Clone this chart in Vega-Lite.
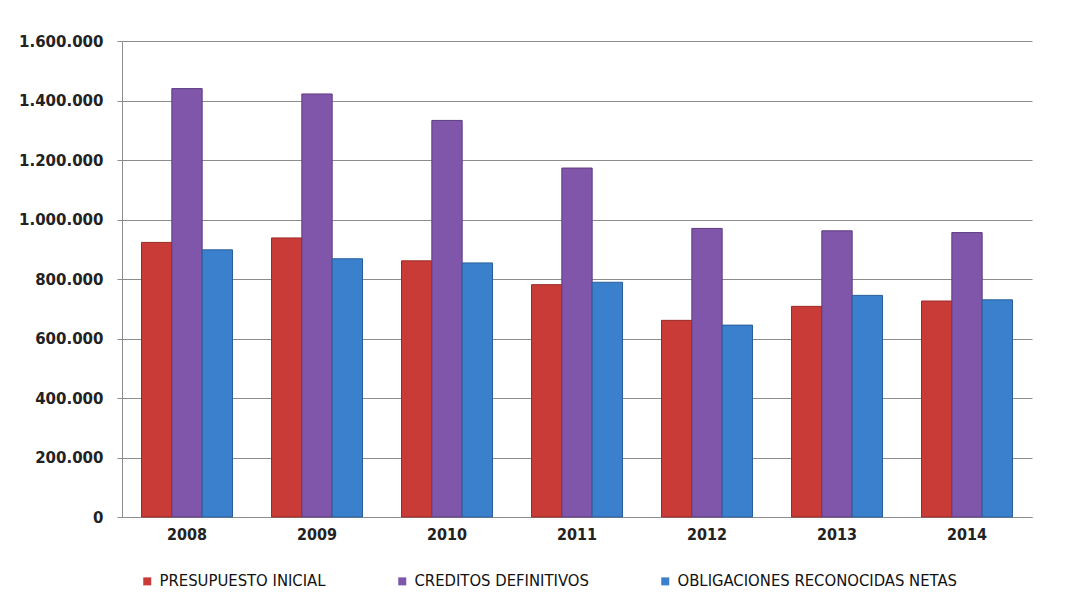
{
  "$schema": "https://vega.github.io/schema/vega-lite/v6.json",
  "width": 910,
  "height": 476,
  "autosize": "none",
  "padding": {"left": 122, "top": 41, "right": 53, "bottom": 84},
  "background": "white",
  "config": {
    "locale": {"number": {"decimal": ",", "thousands": ".", "grouping": [3], "currency": ["", " €"]}},
    "view": {"stroke": null}
  },
  "data": {
    "values": [
      {"year": "2008", "series": "PRESUPUESTO INICIAL", "value": 923000},
      {"year": "2008", "series": "CREDITOS DEFINITIVOS", "value": 1440000},
      {"year": "2008", "series": "OBLIGACIONES RECONOCIDAS NETAS", "value": 898000},
      {"year": "2009", "series": "PRESUPUESTO INICIAL", "value": 938000},
      {"year": "2009", "series": "CREDITOS DEFINITIVOS", "value": 1422000},
      {"year": "2009", "series": "OBLIGACIONES RECONOCIDAS NETAS", "value": 868000},
      {"year": "2010", "series": "PRESUPUESTO INICIAL", "value": 861000},
      {"year": "2010", "series": "CREDITOS DEFINITIVOS", "value": 1333000},
      {"year": "2010", "series": "OBLIGACIONES RECONOCIDAS NETAS", "value": 854000},
      {"year": "2011", "series": "PRESUPUESTO INICIAL", "value": 781000},
      {"year": "2011", "series": "CREDITOS DEFINITIVOS", "value": 1173000},
      {"year": "2011", "series": "OBLIGACIONES RECONOCIDAS NETAS", "value": 789000},
      {"year": "2012", "series": "PRESUPUESTO INICIAL", "value": 661000},
      {"year": "2012", "series": "CREDITOS DEFINITIVOS", "value": 970000},
      {"year": "2012", "series": "OBLIGACIONES RECONOCIDAS NETAS", "value": 645000},
      {"year": "2013", "series": "PRESUPUESTO INICIAL", "value": 708000},
      {"year": "2013", "series": "CREDITOS DEFINITIVOS", "value": 962000},
      {"year": "2013", "series": "OBLIGACIONES RECONOCIDAS NETAS", "value": 745000},
      {"year": "2014", "series": "PRESUPUESTO INICIAL", "value": 726000},
      {"year": "2014", "series": "CREDITOS DEFINITIVOS", "value": 956000},
      {"year": "2014", "series": "OBLIGACIONES RECONOCIDAS NETAS", "value": 730000}
    ]
  },
  "mark": {"type": "bar", "strokeWidth": 1},
  "encoding": {
    "x": {
      "field": "year", "type": "nominal", "title": null,
      "scale": {"paddingInner": 0.3, "paddingOuter": 0.15},
      "axis": {
        "labelAngle": 0, "labelFont": "DejaVu Sans Condensed", "labelFontWeight": "bold", "labelFontSize": 16,
        "labelColor": "#222222", "labelPadding": 9, "ticks": false,
        "domainColor": "#8c8c8c", "domainWidth": 1
      }
    },
    "y": {
      "field": "value", "type": "quantitative", "title": null,
      "scale": {"domain": [0, 1600000]},
      "axis": {
        "values": [0, 200000, 400000, 600000, 800000, 1000000, 1200000, 1400000, 1600000],
        "format": ",d",
        "labelFont": "DejaVu Sans", "labelFontWeight": "bold", "labelFontSize": 15,
        "labelColor": "#222222", "labelPadding": 14, "tickSize": 5, "tickColor": "#8c8c8c",
        "domainColor": "#8c8c8c", "gridColor": "#8c8c8c", "gridWidth": 1, "grid": true
      }
    },
    "xOffset": {
      "field": "series", "type": "nominal",
      "sort": ["PRESUPUESTO INICIAL", "CREDITOS DEFINITIVOS", "OBLIGACIONES RECONOCIDAS NETAS"],
      "scale": {"paddingInner": 0, "paddingOuter": 0}
    },
    "fill": {
      "field": "series", "type": "nominal",
      "sort": ["PRESUPUESTO INICIAL", "CREDITOS DEFINITIVOS", "OBLIGACIONES RECONOCIDAS NETAS"],
      "scale": {
        "domain": ["PRESUPUESTO INICIAL", "CREDITOS DEFINITIVOS", "OBLIGACIONES RECONOCIDAS NETAS"],
        "range": ["#C93B36", "#7F56AA", "#3A80CD"]
      },
      "legend": {
        "title": null, "orient": "none", "direction": "horizontal",
        "legendX": 17, "legendY": 532,
        "symbolType": "square", "symbolSize": 64, "symbolStrokeWidth": 0,
        "labelFont": "DejaVu Sans Condensed", "labelFontSize": 16.5, "labelColor": "#111111",
        "labelLimit": 500, "columnPadding": 68, "labelOffset": 4
      }
    },
    "stroke": {
      "field": "series", "type": "nominal",
      "scale": {
        "domain": ["PRESUPUESTO INICIAL", "CREDITOS DEFINITIVOS", "OBLIGACIONES RECONOCIDAS NETAS"],
        "range": ["#9A2A27", "#5C3C80", "#2A5E9A"]
      },
      "legend": null
    }
  }
}
